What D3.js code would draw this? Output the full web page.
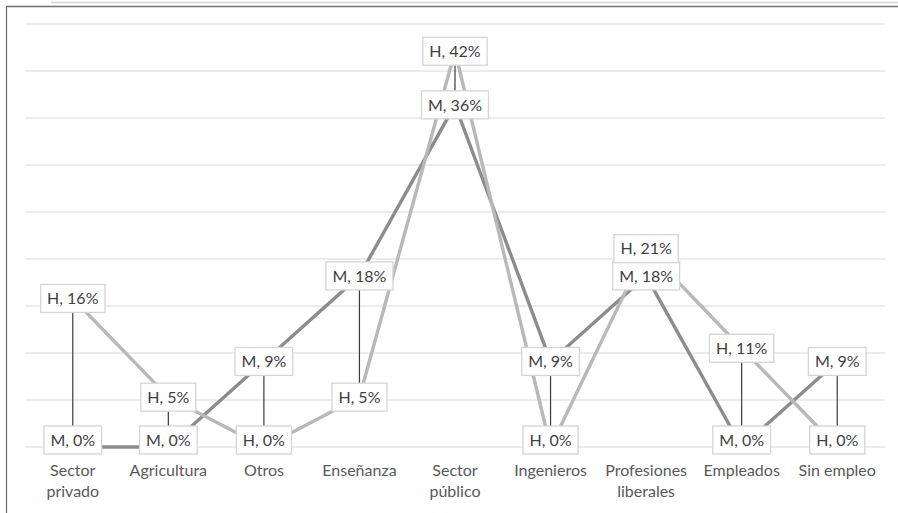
<!DOCTYPE html>
<html>
<head>
<meta charset="utf-8">
<script src="https://cdn.jsdelivr.net/npm/d3@7"></script>
<style>
  body { margin: 0; background: #fff; }
  svg { display: block; font-family: Lato, "Open Sans", sans-serif; }
</style>
</head>
<body>
<svg width="898" height="513"></svg>
<script>
// categories and the two series (percent)
const categories = ["Sector privado", "Agricultura", "Otros", "Enseñanza", "Sector público",
                    "Ingenieros", "Profesiones liberales", "Empleados", "Sin empleo"]
const seriesNames = ["M", "H"]
const valuesM = [0, 0, 9.1, 18.2, 36.4, 9.1, 18.2, 0, 9.1]
const valuesH = [15.8, 5.3, 0, 5.3, 42.1, 0, 21.1, 10.5, 0]
const yTicks = [0, 5, 10, 15, 20, 25, 30, 35, 40, 45]

const margin = { top: 24, right: 13, bottom: 66, left: 25 }
const width = 898
const height = 513

const svg = d3.select("svg")

// page bits around the chart frame
svg.append("line")
    .attr("x1", 51).attr("x2", width)
    .attr("y1", 2.5).attr("y2", 2.5)
    .attr("stroke", "#d4d4d4")
    .attr("stroke-width", 1.5)

svg.append("path")
    .attr("d", `M${width},6.5 H6.5 V${height}`)
    .attr("fill", "none")
    .attr("stroke", "#707070")
    .attr("stroke-width", 1.3)

const xscl = d3.scaleBand()
    .domain(categories)
    .range([margin.left, width - margin.right])

const cx = d => xscl(d) + xscl.bandwidth() / 2

const yscl = d3.scaleLinear()
    .domain([0, 45])
    .range([height - margin.bottom, margin.top])

// gridlines
svg.append("g")
    .selectAll("line")
    .data(yTicks)
    .enter().append("line")
    .attr("x1", margin.left)
    .attr("x2", width - margin.right)
    .attr("y1", d => yscl(d))
    .attr("y2", d => yscl(d))
    .attr("stroke", "#d9d9d9")
    .attr("stroke-width", 1.2)

// category axis labels (wrapped)
const xaxis = svg.append("g")
    .attr("transform", `translate(0,${yscl(0)})`)
    .call(d3.axisBottom(xscl).tickSize(0).tickPadding(0))
xaxis.select(".domain").remove()
xaxis.selectAll("text")
    .attr("font-family", "Lato")
    .attr("font-size", 16)
    .attr("fill", "#595959")
    .attr("dy", null)
    .attr("y", 29)
    .each(function(d) {
        const t = d3.select(this)
        const words = d.split(" ")
        t.text(null)
        let lines = [words[0]]
        for (let i = 1; i < words.length; i++) {
            const test = t.append("tspan").text(lines[lines.length - 1] + " " + words[i])
            const w = test.node().getComputedTextLength()
            test.remove()
            if (w > xscl.bandwidth() - 6) lines.push(words[i])
            else lines[lines.length - 1] += " " + words[i]
        }
        lines.forEach((l, i) => {
            t.append("tspan").attr("x", 0).attr("dy", i === 0 ? 0 : 21).text(l)
        })
    })

const series = [
    { name: "M", values: valuesM, color: "#8c8c8c" },
    { name: "H", values: valuesH, color: "#b8b8b8" },
]

// high-low lines
svg.append("g")
    .selectAll("line")
    .data(categories)
    .enter().append("line")
    .attr("x1", d => cx(d))
    .attr("x2", d => cx(d))
    .attr("y1", (d, i) => yscl(valuesH[i]))
    .attr("y2", (d, i) => yscl(valuesM[i]))
    .attr("stroke", "#3a3a3a")
    .attr("stroke-width", 1.2)

const line = d3.line()
    .x((d, i) => cx(categories[i]))
    .y(d => yscl(d))

svg.append("g")
    .selectAll("path")
    .data(series)
    .enter().append("path")
    .attr("d", d => line(d.values))
    .attr("fill", "none")
    .attr("stroke", d => d.color)
    .attr("stroke-width", 3.4)
    .attr("stroke-linejoin", "round")

// data labels
const labelData = []
series.forEach(s => {
    s.values.forEach((v, i) => {
        labelData.push({ name: s.name, v, cat: categories[i] })
    })
})

const labelH = 28
const maxCenter = yscl(0) - 7

const labels = svg.append("g")
    .selectAll("g")
    .data(labelData)
    .enter().append("g")
    .attr("transform", d => `translate(${cx(d.cat)},${Math.min(yscl(d.v), maxCenter)})`)

const rects = labels.append("rect")
    .attr("fill", "#fff")
    .attr("stroke", "#d5d5d5")
    .attr("stroke-width", 1.3)

const texts = labels.append("text")
    .attr("text-anchor", "middle")
    .attr("dy", "0.36em")
    .attr("font-family", "Lato")
    .attr("font-size", 16)
    .attr("fill", "#404040")
    .text(d => `${d.name}, ${Math.round(d.v)}%`)

texts.each(function(d) {
    d.w = this.getComputedTextLength() + 13
})
rects
    .attr("x", d => -d.w / 2)
    .attr("y", -labelH / 2)
    .attr("width", d => d.w)
    .attr("height", labelH)
</script>
</body>
</html>
